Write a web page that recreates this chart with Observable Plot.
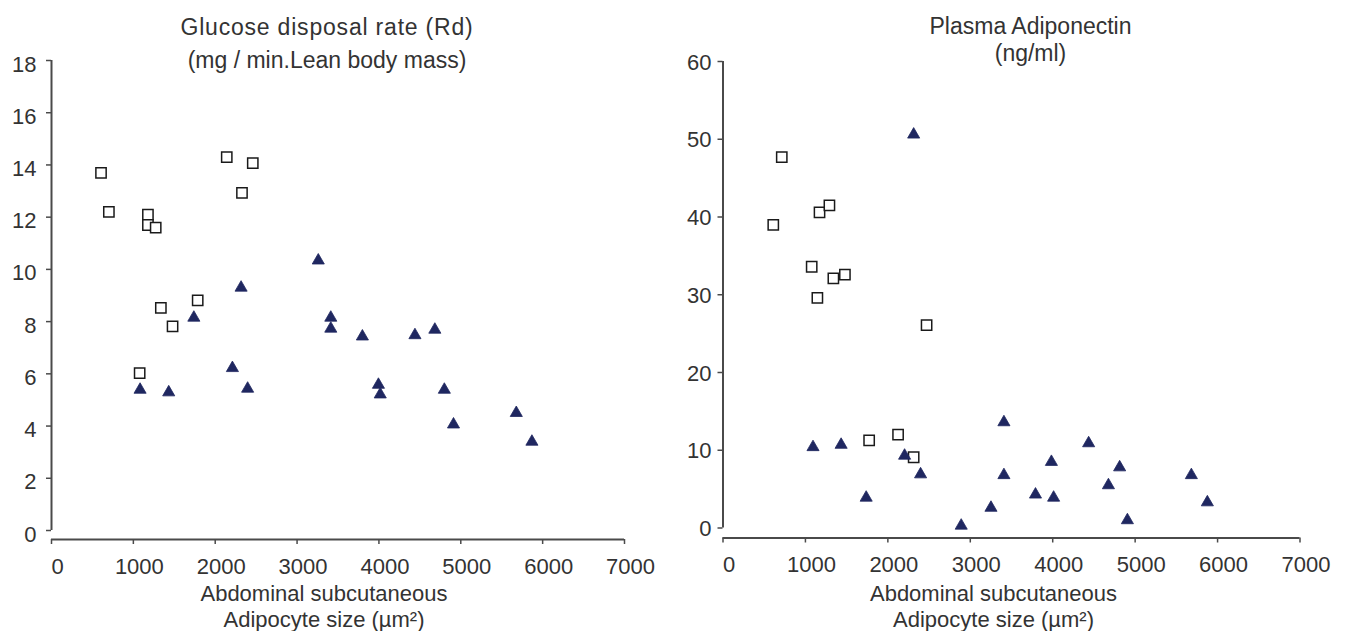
<!DOCTYPE html>
<html>
<head>
<meta charset="utf-8">
<script src="https://cdn.jsdelivr.net/npm/d3@7"></script>
<script src="https://cdn.jsdelivr.net/npm/@observablehq/plot@0.6"></script>
<style>
html, body { margin: 0; padding: 0; background: #fff; }
#wrap { position: relative; width: 1347px; height: 631px; overflow: hidden; background: #fff; }
#left, #right { position: absolute; top: 0; }
#left { left: 0; }
#right { left: 670px; }
svg { overflow: visible; }
</style>
</head>
<body>
<div id="wrap"><div id="left"></div><div id="right"></div></div>
<script>
// ---- Tick labels ----
const xTicks = [0, 1000, 2000, 3000, 4000, 5000, 6000, 7000];
const rdTicks = [0, 2, 4, 6, 8, 10, 12, 14, 16, 18];
const adipoTicks = [0, 10, 20, 30, 40, 50, 60];

// ---- Texts ----
const rdTitle1 = "Glucose disposal rate (Rd)";
const rdTitle2 = "(mg / min.Lean body mass)";
const adipoTitle1 = "Plasma Adiponectin";
const adipoTitle2 = "(ng/ml)";
const xLabel1 = "Abdominal subcutaneous";
const xLabel2 = "Adipocyte size (µm²)";

// ---- Left panel: Glucose disposal rate ----
const rdSquaresX = [605, 701, 1077, 1178, 1178, 1273, 1336, 1479, 1786, 2141, 2327, 2459];
const rdSquaresY = [13.7, 12.2, 6.03, 12.1, 11.7, 11.6, 8.53, 7.82, 8.81, 14.3, 12.93, 14.07];
const rdTrianglesX = [1082, 1432, 1739, 2210, 2316, 2396, 3259, 3412, 3412, 3798, 3994, 4016, 4440, 4683, 4799, 4911, 5678, 5869];
const rdTrianglesY = [5.39, 5.29, 8.15, 6.22, 9.3, 5.43, 10.34, 8.15, 7.73, 7.43, 5.58, 5.21, 7.48, 7.69, 5.39, 4.06, 4.5, 3.4];

// ---- Right panel: Plasma Adiponectin ----
const adSquaresX = [610, 713, 1076, 1145, 1171, 1291, 1339, 1479, 1773, 2124, 2313, 2470];
const adSquaresY = [39.0, 47.7, 33.6, 29.6, 40.6, 41.5, 32.1, 32.6, 11.26, 12.0, 9.1, 26.1];
const adTrianglesX = [1092, 1433, 1737, 2203, 2313, 2397, 2890, 3251, 3408, 3408, 3791, 3984, 4011, 4436, 4676, 4812, 4906, 5682, 5876];
const adTrianglesY = [10.4, 10.7, 3.9, 9.3, 50.6, 6.9, 0.3, 2.6, 13.6, 6.8, 4.3, 8.5, 3.9, 10.9, 5.5, 7.8, 1.0, 6.8, 3.3];

const AXIS = "#4a4a4a";
const TEXT = "#333333";
const TRI = "#1f2760";
const FONT = 22;
const TFONT = 23;

function panel(o) {
  const sq = o.sqX.map((x, i) => ({x, y: o.sqY[i]}));
  const tr = o.trX.map((x, i) => ({x, y: o.trY[i]}));
  return Plot.plot({
    width: o.width,
    height: 631,
    marginLeft: o.ml,
    marginRight: o.mr,
    marginTop: o.mt,
    marginBottom: o.mb,
    style: {fontFamily: "'Liberation Sans', Arial, sans-serif", fontSize: FONT + "px", color: TEXT, background: "white", overflow: "visible"},
    x: {domain: [0, 7000], axis: null},
    y: {domain: o.yDomain, axis: null},
    marks: [
      // axis lines
      Plot.ruleX([0], {stroke: AXIS, strokeWidth: 2}),
      Plot.ruleY([0], {stroke: AXIS, strokeWidth: 2, dy: o.xAxisDy}),
      // y ticks and labels
      Plot.axisY(o.yTicks, {tickSize: 5, fill: "none", stroke: AXIS, strokeWidth: 1.5, label: null}),
      Plot.axisY(o.yTicks, {tickSize: 0, tickPadding: o.yPad, dy: o.yLabelDy, fontSize: FONT, fill: TEXT, label: null, tickFormat: d3.format("d")}),
      // x ticks and labels
      Plot.axisX(xTicks, {tickSize: 5, fill: "none", stroke: AXIS, strokeWidth: 1.5, dy: o.xAxisDy, label: null}),
      Plot.axisX(xTicks, {tickSize: 0, tickPadding: o.xPad, dy: o.xAxisDy, dx: 6, fontSize: FONT, fill: TEXT, label: null, tickFormat: d3.format("d")}),
      // data
      Plot.dot(sq, {x: "x", y: "y", symbol: "square", r: 5.8, fill: "white", stroke: "#1a1a1a", strokeWidth: 1.5}),
      Plot.dot(tr, {x: "x", y: "y", symbol: "triangle", r: 4.5, fill: TRI, stroke: TRI, strokeWidth: 0.8}),
      // titles
      Plot.text([o.t1], {frameAnchor: "top", dx: o.tdx, dy: o.t1dy, lineAnchor: "bottom", fontSize: TFONT, fill: TEXT}),
      Plot.text([o.t2], {frameAnchor: "top", dx: o.tdx, dy: o.t2dy, lineAnchor: "bottom", fontSize: TFONT, fill: TEXT}),
      // x labels
      Plot.text([xLabel1], {frameAnchor: "bottom", dx: o.ldx, dy: o.l1dy, lineAnchor: "bottom", fontSize: FONT, fill: TEXT}),
      Plot.text([xLabel2], {frameAnchor: "bottom", dx: o.ldx, dy: o.l2dy, lineAnchor: "bottom", fontSize: FONT, fill: TEXT})
    ]
  });
}

const left = panel({
  width: 670, ml: 51, mr: 46, mt: 60, mb: 101,
  yDomain: [0, 18], yTicks: rdTicks, yPad: 15, yLabelDy: 4,
  xAxisDy: 9, xPad: 19,
  sqX: rdSquaresX, sqY: rdSquaresY, trX: rdTrianglesX, trY: rdTrianglesY,
  t1: rdTitle1, t2: rdTitle2, tdx: -11, t1dy: -26, t2dy: 7,
  ldx: -14, l1dy: 70, l2dy: 96
});
document.getElementById("left").append(left);

const right = panel({
  width: 677, ml: 52.5, mr: 47.5, mt: 61, mb: 103.5,
  yDomain: [0, 60], yTicks: adipoTicks, yPad: 11.5, yLabelDy: 1,
  xAxisDy: 10, xPad: 18,
  sqX: adSquaresX, sqY: adSquaresY, trX: adTrianglesX, trY: adTrianglesY,
  t1: adipoTitle1, t2: adipoTitle2, tdx: 19, t1dy: -28, t2dy: -1,
  ldx: -18, l1dy: 72.5, l2dy: 98.5
});
document.getElementById("right").append(right);

// slight letter spacing on the first title line of the left panel, as in the reference
d3.select(left).selectAll("text").filter(function () { return this.textContent === rdTitle1; }).style("letter-spacing", "0.8px");
</script>
</body>
</html>
